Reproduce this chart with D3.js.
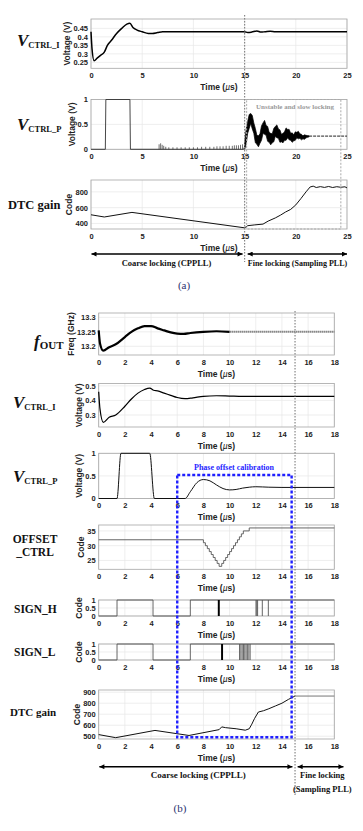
<!DOCTYPE html>
<meta charset="utf-8">
<style>
  body { margin: 0; background: #fff; }
  .tick text { font: bold 7.5px "Liberation Sans", Arial, sans-serif; fill: #222; }
  .axlab { font: bold 8.5px "Liberation Sans", Arial, sans-serif; fill: #222; }
  .serif { font-family: "Liberation Serif", "Times New Roman", serif; font-weight: bold; fill: #111; }
</style>
<body>
<svg width="363" height="831"></svg>

<script src="https://d3js.org/d3.v7.min.js"></script>
<script>

// ---------------- data, figure (a) : time in us ----------------
var vIaT = [0, 0.1, 0.3, 0.6, 0.9, 1.3, 1.6, 2.0, 2.5, 3.0, 3.5, 3.8, 4.1, 4.5, 5.0, 5.6, 6.0, 6.5, 7.0, 15.0, 15.3, 15.7, 16.2, 16.6, 17.0, 17.5, 18.0, 19.0, 25];
var vIaV = [0.43, 0.33, 0.26, 0.275, 0.29, 0.31, 0.35, 0.38, 0.42, 0.45, 0.475, 0.48, 0.455, 0.44, 0.43, 0.42, 0.42, 0.425, 0.43, 0.43, 0.425, 0.428, 0.435, 0.428, 0.43, 0.433, 0.43, 0.43, 0.43];

var vPaT = [0, 1.4, 1.45, 3.8, 3.85, 14.9, 15.0];
var vPaV = [0, 0, 1, 1, 0, 0, 0.05];
// little spurs on V_CTRL_P during coarse locking
var spikeT = [6.65, 6.8, 6.95, 7.1, 7.3, 7.6, 8.0, 8.4, 8.8, 9.2, 9.6, 10.0, 10.4, 10.8, 11.2, 11.6, 12.0, 12.3, 12.6, 12.9, 13.2, 13.5, 13.8, 14.0, 14.2, 14.4, 14.6, 14.8];
var spikeH = [0.1, 0.12, 0.09, 0.07, 0.05, 0.04, 0.04, 0.04, 0.04, 0.04, 0.04, 0.04, 0.04, 0.05, 0.05, 0.05, 0.05, 0.06, 0.06, 0.06, 0.07, 0.07, 0.07, 0.08, 0.08, 0.08, 0.09, 0.1];
// noisy band after the switch to the sampling PLL
var bandT  = [15.0, 15.15, 15.3, 15.45, 15.6, 15.75, 15.9, 16.05, 16.2, 16.35, 16.5, 16.65, 16.8, 16.95, 17.1, 17.25, 17.4, 17.55, 17.7, 17.85, 18.0, 18.15, 18.3, 18.45, 18.6, 18.75, 18.9, 19.05, 19.2, 19.35, 19.5, 19.65, 19.8, 19.95, 20.1, 20.25, 20.4, 20.55, 20.7, 20.85, 21.0, 21.15, 21.3];
var bandHi = [0.12, 0.4, 0.56, 0.7, 0.72, 0.68, 0.53, 0.42, 0.28, 0.27, 0.31, 0.47, 0.53, 0.58, 0.48, 0.46, 0.34, 0.32, 0.31, 0.42, 0.46, 0.49, 0.41, 0.39, 0.3, 0.32, 0.35, 0.43, 0.4, 0.4, 0.32, 0.33, 0.29, 0.35, 0.34, 0.36, 0.31, 0.3, 0.27, 0.29, 0.28, 0.275, 0.27];
var bandLo = [0.0, 0.1, 0.32, 0.42, 0.52, 0.41, 0.32, 0.13, 0.1, 0.05, 0.12, 0.18, 0.32, 0.3, 0.28, 0.16, 0.14, 0.09, 0.13, 0.15, 0.26, 0.23, 0.22, 0.14, 0.15, 0.13, 0.18, 0.18, 0.23, 0.19, 0.18, 0.14, 0.17, 0.18, 0.23, 0.21, 0.22, 0.19, 0.21, 0.2, 0.23, 0.24, 0.25];
var tailPaT = [21.3, 25];
var tailPaV = [0.265, 0.265];

var dtcAT = [0, 1.3, 4.0, 15.0, 15.3, 16.0, 16.8, 17.3, 18.0, 18.5, 19.0, 19.5, 20.0, 20.5, 21.0, 21.4, 21.7, 22.0, 22.4, 22.8, 23.2, 23.6, 24.0, 24.4, 24.8, 25];
var dtcAV = [510, 482, 540, 345, 372, 382, 392, 430, 470, 505, 545, 578, 635, 715, 800, 862, 872, 855, 866, 856, 868, 855, 865, 858, 864, 850];

// ---------------- data, figure (b) ----------------
var foutT = [0, 0.1, 0.35, 0.8, 1.3, 2.0, 2.5, 3.0, 3.5, 4.0, 4.5, 5.0, 5.5, 6.0, 6.5, 7.0, 8.0, 9.0, 10.0];
var foutV = [13.255, 13.21, 13.185, 13.197, 13.207, 13.232, 13.25, 13.262, 13.27, 13.27, 13.262, 13.255, 13.248, 13.244, 13.243, 13.246, 13.25, 13.252, 13.25];
var foutTailT = [10, 18];
var foutTailV = [13.25, 13.25];

var vIbT = [0, 0.1, 0.35, 0.8, 1.3, 2.0, 2.5, 3.0, 3.5, 3.9, 4.2, 4.5, 5.0, 5.5, 6.0, 6.6, 7.2, 8.0, 9.0, 10.0, 11, 18];
var vIbV = [0.46, 0.34, 0.25, 0.285, 0.3, 0.36, 0.41, 0.45, 0.475, 0.485, 0.47, 0.465, 0.45, 0.435, 0.42, 0.412, 0.418, 0.428, 0.432, 0.43, 0.428, 0.428];

var vPbT = [0, 1.4, 1.7, 3.9, 4.25, 6.6, 7.0, 7.5, 8.0, 8.5, 9.0, 9.5, 10.0, 10.5, 11.0, 11.5, 12.0, 13.0, 14.0, 18];
var vPbV = [0, 0, 1, 1, 0, 0, 0.15, 0.35, 0.42, 0.39, 0.3, 0.22, 0.19, 0.2, 0.23, 0.25, 0.26, 0.25, 0.245, 0.245];

var offT    = [0, 8.0, 8.15, 8.3, 8.45, 8.6, 8.75, 8.9, 9.05, 9.2, 9.4, 9.55, 9.7, 9.85, 10.0, 10.15, 10.3, 10.45, 10.6, 10.75, 10.9, 11.05, 11.5, 18];
var offCode = [32, 31, 30, 29, 28, 27, 26, 25, 24, 23, 24, 25, 26, 27, 28, 29, 30, 31, 32, 33, 34, 35, 36, 36];

var signHT = [0, 1.4, 4.15, 7.0, 18];
var signHV = [0, 1, 0, 1, 1];
var signHBars = [[9.1, 9.25]];
var signHPulses = [12.02, 12.08, 12.14, 12.5, 12.96];

var signLT = [0, 1.4, 4.15, 7.0, 18];
var signLV = [0, 1, 0, 1, 1];
var signLBars = [[9.35, 9.5]];
var signLPulses = [10.76, 10.86, 10.96, 11.06, 11.16, 11.26, 11.36, 11.47, 11.57];

var dtcBT = [0, 1.3, 4.3, 6.9, 9.2, 9.4, 9.7, 10.5, 11.2, 11.5, 11.7, 11.9, 12.2, 12.6, 13.0, 13.5, 14.0, 14.5, 15.0];
var dtcBV = [515, 487, 553, 507, 560, 585, 578, 568, 555, 568, 610, 660, 720, 732, 750, 775, 800, 835, 865];
var dtcBTailT = [15, 18];
var dtcBTailV = [865, 865];

var xTicksA = [0, 5, 10, 15, 20, 25];
var xTicksB = [0, 2, 4, 6, 8, 10, 12, 14, 16, 18];

// ---------------------------------------------------------------
var svg = d3.select("svg");
var xA = d3.scaleLinear().domain([0, 25]).range([91, 347]);
var xB = d3.scaleLinear().domain([0, 18]).range([98.7, 334.3]);

// draws a MATLAB style box with grid, tick labels and axis titles
function makePanel(cfg) {
  var x = cfg.x;
  var y = d3.scaleLinear().domain(cfg.yDomain).range([cfg.bottom, cfg.top]);
  var g = svg.append("g");
  var left = x.range()[0], right = x.range()[1];

  g.selectAll(null).data(cfg.xTicks).enter().append("line")
    .attr("x1", d => x(d)).attr("x2", d => x(d))
    .attr("y1", cfg.top).attr("y2", cfg.bottom)
    .attr("stroke", "#e6e6e6").attr("stroke-width", 0.7);
  g.selectAll(null).data(cfg.yTicks).enter().append("line")
    .attr("x1", left).attr("x2", right)
    .attr("y1", d => y(d)).attr("y2", d => y(d))
    .attr("stroke", "#e6e6e6").attr("stroke-width", 0.7);
  g.append("rect").attr("x", left).attr("y", cfg.top)
    .attr("width", right - left).attr("height", cfg.bottom - cfg.top)
    .attr("fill", "none").attr("stroke", "#a5a5a5").attr("stroke-width", 0.8);

  g.append("g").attr("transform", "translate(0," + cfg.bottom + ")")
    .call(d3.axisBottom(x).tickValues(cfg.xTicks).tickSize(0).tickPadding(4.5).tickFormat(d3.format("d")))
    .call(a => a.select(".domain").remove());

  var ya = g.append("g").attr("transform", "translate(" + left + ",0)")
    .call(d3.axisLeft(y).tickValues(cfg.yTicks).tickSize(0).tickPadding(3).tickFormat(d => String(d)))
    .call(a => a.select(".domain").remove());

  var w = 0;
  ya.selectAll("text").each(function() { w = Math.max(w, this.getComputedTextLength()); });

  var cy = (cfg.top + cfg.bottom) / 2, lx = left - 3 - w - 6;
  g.append("text").attr("class", "axlab")
    .attr("transform", "translate(" + lx + "," + cy + ") rotate(-90)")
    .attr("text-anchor", "middle").attr("dy", "0.35em").text(cfg.yLabel);

  var t = g.append("text").attr("class", "axlab").attr("text-anchor", "middle")
    .attr("x", (left + right) / 2).attr("y", cfg.bottom + 21.5);
  t.append("tspan").text("Time (");
  t.append("tspan").attr("font-style", "italic").attr("font-weight", "normal").text("\u00b5");
  t.append("tspan").text("s)");

  return { x: x, y: y, g: g };
}

function line(p, xs, ys, color, width, curve) {
  var pts = xs.map((d, i) => [d, ys[i]]);
  return p.g.append("path")
    .attr("d", d3.line().x(d => p.x(d[0])).y(d => p.y(d[1])).curve(curve || d3.curveLinear)(pts))
    .attr("fill", "none").attr("stroke", color).attr("stroke-width", width)
    .attr("stroke-linejoin", "round");
}

function sideLabel(x, y, parts) {
  var t = svg.append("text").attr("class", "serif").attr("x", x).attr("y", y);
  parts.forEach(function(p) {
    t.append("tspan").text(p.t).attr("font-size", p.size)
      .attr("font-style", p.italic ? "italic" : null)
      .attr("dy", p.dy || 0);
  });
  return t;
}

function vLabel(x, y, sub) {
  sideLabel(x, y, [{ t: "V", size: 17, italic: true }, { t: sub, size: 8.5, dy: 1.5 }]);
}

// arrow heads
var defs = svg.append("defs");
defs.append("marker").attr("id", "ah").attr("viewBox", "0 0 10 10")
  .attr("refX", 10).attr("refY", 5).attr("markerWidth", 8).attr("markerHeight", 5)
  .attr("markerUnits", "userSpaceOnUse").attr("orient", "auto-start-reverse")
  .append("path").attr("d", "M0,0L10,5L0,10z").attr("fill", "#000");

function arrow(x1, x2, y) {
  svg.append("line").attr("x1", x1).attr("x2", x2).attr("y1", y).attr("y2", y)
    .attr("stroke", "#000").attr("stroke-width", 1.4)
    .attr("marker-start", "url(#ah)").attr("marker-end", "url(#ah)");
}

// ======================= (a) =======================
var a1 = makePanel({ x: xA, xTicks: xTicksA, yDomain: [0.215, 0.505], yTicks: [0.25, 0.3, 0.35, 0.4, 0.45], top: 19, bottom: 68.3, yLabel: "Voltage (V)" });
line(a1, vIaT, vIaV, "#000", 1.5, d3.curveMonotoneX);

var a2 = makePanel({ x: xA, xTicks: xTicksA, yDomain: [0, 1], yTicks: [0, 0.5, 1], top: 99.5, bottom: 149.3, yLabel: "Voltage (V)" });
line(a2, vPaT, vPaV, "#333", 0.9);
a2.g.selectAll(null).data(spikeT).enter().append("line")
  .attr("x1", d => a2.x(d)).attr("x2", d => a2.x(d))
  .attr("y1", a2.y(0)).attr("y2", (d, i) => a2.y(spikeH[i]))
  .attr("stroke", "#333").attr("stroke-width", 0.7);
a2.g.append("path")
  .datum(bandT.map((d, i) => [d, bandLo[i], bandHi[i]]))
  .attr("d", d3.area().x(d => a2.x(d[0])).y0(d => a2.y(d[1])).y1(d => a2.y(d[2])))
  .attr("fill", "#000").attr("stroke", "#000").attr("stroke-width", 0.7);
line(a2, tailPaT, tailPaV, "#222", 1).attr("stroke-dasharray", "3,1");

var a3 = makePanel({ x: xA, xTicks: xTicksA, yDomain: [330, 950], yTicks: [400, 600, 800], top: 180, bottom: 229, yLabel: "Code" });
line(a3, dtcAT, dtcAV, "#111", 1);

// unstable region box
svg.append("rect").attr("x", xA(15.2)).attr("y", 99.5)
  .attr("width", xA(24.4) - xA(15.2)).attr("height", 229 - 99.5)
  .attr("fill", "none").attr("stroke", "#aaa").attr("stroke-width", 1).attr("stroke-dasharray", "2,1.5");
svg.append("text").attr("class", "serif").attr("x", 295).attr("y", 108.5)
  .attr("text-anchor", "middle").attr("font-size", 7).style("fill", "#9a9a9a")
  .text("Unstable and slow locking");

svg.append("line").attr("x1", xA(15)).attr("x2", xA(15)).attr("y1", 15).attr("y2", 262)
  .attr("stroke", "#888").attr("stroke-width", 1.2).attr("stroke-dasharray", "1.5,1.5");

vLabel(17, 46, "CTRL_I");
vLabel(17, 130, "CTRL_P");
sideLabel(8, 209, [{ t: "DTC gain", size: 12.5 }]);

arrow(xA(0.05), xA(14.8), 254);
arrow(xA(15.3), xA(25), 254);
svg.append("text").attr("class", "serif").attr("font-size", 8.5).attr("text-anchor", "middle")
  .attr("x", 166.5).attr("y", 265.5).text("Coarse locking (CPPLL)");
svg.append("text").attr("class", "serif").attr("font-size", 8).attr("text-anchor", "middle")
  .attr("x", 297.5).attr("y", 265.5).text("Fine locking (Sampling PLL)");
svg.append("text").attr("font-family", "Liberation Serif, serif").attr("font-size", 11)
  .attr("fill", "#2b3270").attr("text-anchor", "middle").attr("x", 184).attr("y", 289).text("(a)");

// ======================= (b) =======================
var b1 = makePanel({ x: xB, xTicks: xTicksB, yDomain: [13.17, 13.315], yTicks: [13.2, 13.25, 13.3], top: 313, bottom: 355, yLabel: "Freq (GHz)" });
line(b1, foutT, foutV, "#000", 2.2, d3.curveMonotoneX);
line(b1, foutTailT, foutTailV, "#6a6a6a", 2).attr("stroke-dasharray", "1.2,0.8");

var b2 = makePanel({ x: xB, xTicks: xTicksB, yDomain: [0.218, 0.516], yTicks: [0.3, 0.4, 0.5], top: 383.5, bottom: 427, yLabel: "Voltage (V)" });
line(b2, vIbT, vIbV, "#000", 1.2, d3.curveMonotoneX);

var b3 = makePanel({ x: xB, xTicks: xTicksB, yDomain: [0, 1], yTicks: [0, 0.5, 1], top: 453.3, bottom: 498.5, yLabel: "Voltage (V)" });
line(b3, vPbT, vPbV, "#111", 1, d3.curveMonotoneX);

var b4 = makePanel({ x: xB, xTicks: xTicksB, yDomain: [22, 37], yTicks: [25, 30, 35], top: 525, bottom: 569.3, yLabel: "Code" });
line(b4, offT, offCode, "#555", 0.9, d3.curveStepAfter);

function signPanel(top, bottom, ts, vs, bars, pulses) {
  var p = makePanel({ x: xB, xTicks: xTicksB, yDomain: [0, 1], yTicks: [0, 0.5, 1], top: top, bottom: bottom, yLabel: "Code" });
  line(p, ts, vs, "#555", 0.9, d3.curveStepAfter);
  p.g.selectAll(null).data(bars).enter().append("rect")
    .attr("x", d => p.x(d[0])).attr("width", d => p.x(d[1]) - p.x(d[0]))
    .attr("y", p.y(1)).attr("height", p.y(0) - p.y(1)).attr("fill", "#000");
  p.g.selectAll(null).data(pulses).enter().append("line")
    .attr("x1", d => p.x(d)).attr("x2", d => p.x(d))
    .attr("y1", p.y(0)).attr("y2", p.y(1))
    .attr("stroke", "#555").attr("stroke-width", 0.9);
  return p;
}
signPanel(600, 616, signHT, signHV, signHBars, signHPulses);
signPanel(644, 660, signLT, signLV, signLBars, signLPulses);

var b7 = makePanel({ x: xB, xTicks: xTicksB, yDomain: [475, 920], yTicks: [500, 600, 700, 800, 900], top: 690, bottom: 739, yLabel: "Code" });
line(b7, dtcBT, dtcBV, "#111", 1);
line(b7, dtcBTailT, dtcBTailV, "#777", 1);

// phase offset calibration window
svg.append("rect").attr("x", xB(6)).attr("y", 475)
  .attr("width", xB(14.74) - xB(6)).attr("height", 737.3 - 475)
  .attr("fill", "none").attr("stroke", "#1f1fff").attr("stroke-width", 2.4).attr("stroke-dasharray", "3,2");
svg.append("text").attr("class", "serif").attr("x", 234).attr("y", 470)
  .attr("text-anchor", "middle").attr("font-size", 8).style("fill", "#1f1fff")
  .text("Phase offset calibration");

svg.append("line").attr("x1", xB(15)).attr("x2", xB(15)).attr("y1", 311).attr("y2", 795)
  .attr("stroke", "#888").attr("stroke-width", 1.2).attr("stroke-dasharray", "1.5,1.5");

sideLabel(34, 347, [{ t: "f", size: 17, italic: true }, { t: "OUT", size: 11, dy: 1.5 }]);
vLabel(13, 408, "CTRL_I");
vLabel(13, 482, "CTRL_P");
sideLabel(35, 542.5, [{ t: "OFFSET", size: 11.5 }]).attr("text-anchor", "middle");
sideLabel(35, 556, [{ t: "_CTRL", size: 11.5 }]).attr("text-anchor", "middle");
sideLabel(14, 612.5, [{ t: "SIGN_H", size: 11.5 }]);
sideLabel(14, 656, [{ t: "SIGN_L", size: 11.5 }]);
sideLabel(10, 716, [{ t: "DTC gain", size: 11 }]);

arrow(xB(0.05), xB(14.8), 766.7);
arrow(xB(15.2), xB(18.7), 766.7);
svg.append("text").attr("class", "serif").attr("font-size", 9).attr("text-anchor", "middle")
  .attr("x", 198.3).attr("y", 778).text("Coarse locking (CPPLL)");
svg.append("text").attr("class", "serif").attr("font-size", 8.5).attr("text-anchor", "middle")
  .attr("x", 322.3).attr("y", 778).text("Fine locking");
svg.append("text").attr("class", "serif").attr("font-size", 8.5).attr("text-anchor", "middle")
  .attr("x", 322.3).attr("y", 792).text("(Sampling PLL)");
svg.append("text").attr("font-family", "Liberation Serif, serif").attr("font-size", 11)
  .attr("fill", "#2b3270").attr("text-anchor", "middle").attr("x", 180).attr("y", 812).text("(b)");

</script>
</body>
